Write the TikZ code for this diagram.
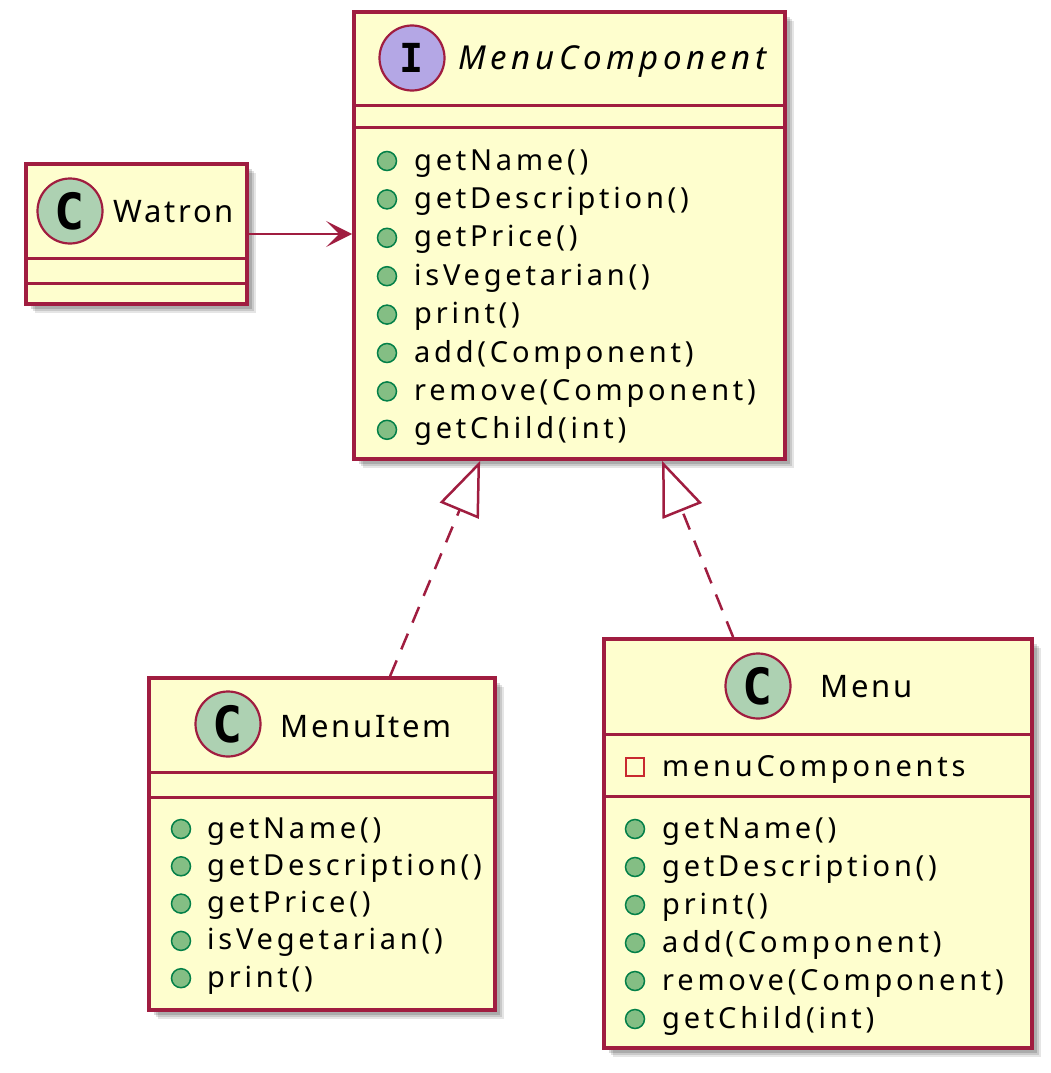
\documentclass[tikz,border=0pt]{standalone}
\usepackage{fontspec}
\setmainfont{Noto Sans}
\newfontfamily\umlfont[LetterSpace=13]{Noto Sans}
\newfontfamily\titlefont[LetterSpace=9]{Noto Sans}
\newfontfamily\ititlefont[LetterSpace=14]{Noto Sans Italic}
\newfontfamily\iconfont{DejaVu Sans Mono}
\usetikzlibrary{arrows.meta,shadows,calc}
\definecolor{umlborder}{HTML}{A01D40}
\definecolor{umlfill}{HTML}{FEFECE}
\definecolor{cfill}{HTML}{ADD1B2}
\definecolor{ifill}{HTML}{B4A7E5}
\definecolor{pubfill}{HTML}{84BE84}
\definecolor{pubborder}{HTML}{038048}
\definecolor{privcol}{HTML}{C82930}
\begin{document}
\begin{tikzpicture}[x=1pt,y=-1pt,
  box/.style={rectangle, draw=umlborder, line width=3.8pt, fill=umlfill, inner sep=0pt,
    general shadow={fill=black, opacity=0.10, shadow xshift=9pt, shadow yshift=-9pt},
    general shadow={fill=black, opacity=0.12, shadow xshift=7pt, shadow yshift=-7pt},
    general shadow={fill=black, opacity=0.15, shadow xshift=5pt, shadow yshift=-5pt}},
  sepline/.style={draw=umlborder, line width=3pt},
  pub/.style={circle, draw=pubborder, fill=pubfill, line width=1.5pt, minimum size=19pt, inner sep=0pt},
  priv/.style={rectangle, draw=privcol, line width=1.6pt, minimum size=18pt, inner sep=0pt},
  cicon/.style={circle, draw=umlborder, fill=cfill, line width=2.2pt, minimum size=65pt, inner sep=0pt,
    font=\iconfont\bfseries\fontsize{50}{50}\selectfont},
  iicon/.style={cicon, fill=ifill, font=\iconfont\bfseries\fontsize{40}{40}\selectfont},
  member/.style={anchor=base west, inner sep=0pt, font=\umlfont\fontsize{29}{33}\selectfont},
  titletext/.style={anchor=base west, inner sep=0pt, font=\titlefont\fontsize{31}{36}\selectfont},
  assoc/.style={draw=umlborder, line width=2.5pt, -{Stealth[length=26pt, width=26pt, inset=13pt]}},
  realize/.style={draw=umlborder, line width=2.5pt, dash pattern=on 17pt off 12pt,
    -{Triangle[length=54pt, width=42pt, fill=white]}}
]
\useasboundingbox (0,0) rectangle (1051,1073);

% boxes
\node[box, minimum width=431pt, minimum height=447pt] (mc) at (569.5,235.5) {};
\node[box, minimum width=221pt, minimum height=140pt] (wat) at (136.5,234) {};
\node[box, minimum width=346pt, minimum height=332pt] (mi) at (322,844) {};
\node[box, minimum width=428pt, minimum height=409pt] (menu) at (818,843.5) {};

% separators
\draw[sepline] (mc.west |- 0,105) -- (mc.east |- 0,105);
\draw[sepline] (mc.west |- 0,127) -- (mc.east |- 0,127);
\draw[sepline] (wat.west |- 0,258) -- (wat.east |- 0,258);
\draw[sepline] (wat.west |- 0,283) -- (wat.east |- 0,283);
\draw[sepline] (mi.west |- 0,772) -- (mi.east |- 0,772);
\draw[sepline] (mi.west |- 0,797) -- (mi.east |- 0,797);
\draw[sepline] (menu.west |- 0,734) -- (menu.east |- 0,734);
\draw[sepline] (menu.west |- 0,796) -- (menu.east |- 0,796);

% icons and titles
\node[iicon] (mcicon) at (412,58) {I};
\node[titletext, font=\ititlefont\fontsize{33}{38}\selectfont] (mctitle) at (458,70) {MenuComponent};
\node[cicon] (waticon) at (70,211) {C};
\node[titletext] (wattitle) at (113,222) {Watron};
\node[cicon] (miicon) at (228,724) {C};
\node[titletext] (mititle) at (280,737) {MenuItem};
\node[cicon] (menuicon) at (758,686) {C};
\node[titletext] (menutitle) at (820,697) {Menu};

% MenuComponent methods
\foreach \t [count=\i from 0] in {getName(), getDescription(), getPrice(), isVegetarian(), print(), add(Component), remove(Component), getChild(int)} {
  \node[pub] (mcp\i) at (387,{161+38.4*\i}) {};
  \node[member] (mcm\i) at (414,{170+38.4*\i}) {\t};
}
% MenuItem methods
\foreach \t [count=\i from 0] in {getName(), getDescription(), getPrice(), isVegetarian(), print()} {
  \node[pub] (mip\i) at (181,{829+37.3*\i}) {};
  \node[member] (mim\i) at (207,{838+37.3*\i}) {\t};
}
% Menu field and methods
\node[priv] (menupriv) at (635,767) {};
\node[member] (menufield) at (662,776) {menuComponents};
\foreach \t [count=\i from 0] in {getName(), getDescription(), print(), add(Component), remove(Component), getChild(int)} {
  \node[pub] (menup\i) at (635,{829+38*\i}) {};
  \node[member] (menum\i) at (662,{838+38*\i}) {\t};
}

% connectors
\draw[assoc] (wat.east) -- (wat.east -| mc.west);
\draw[realize] ($(mi.north west)+(243,0)$) -- ($(mc.south west)+(128,0)$);
\draw[realize] ($(menu.north west)+(131,0)$) -- ($(mc.south west)+(310,0)$);
\end{tikzpicture}
\end{document}
